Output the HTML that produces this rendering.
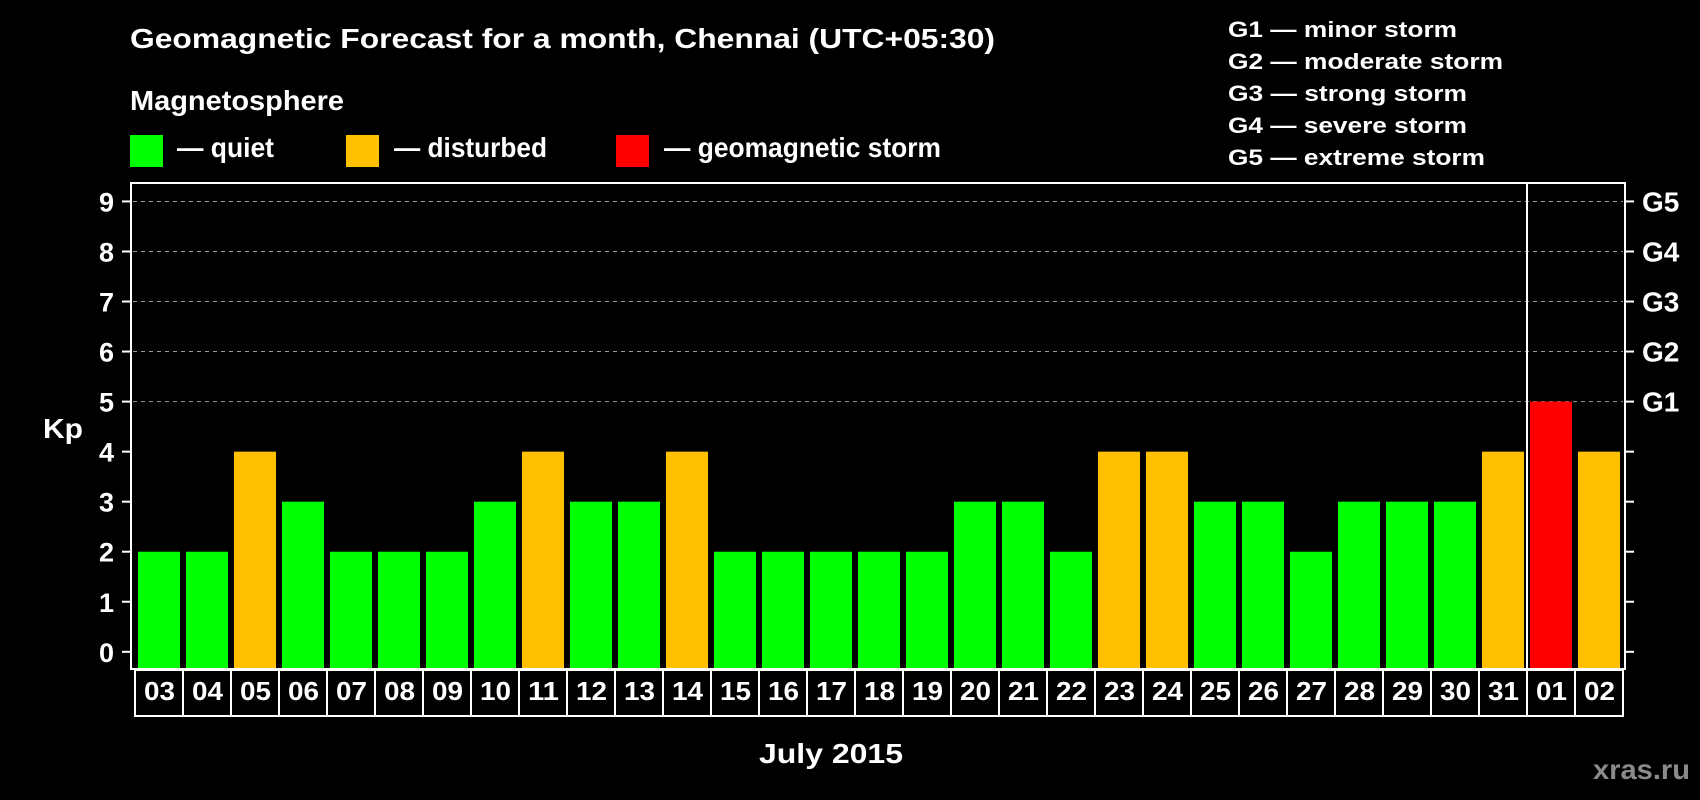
<!DOCTYPE html>
<html><head><meta charset="utf-8"><style>
html,body{margin:0;padding:0;background:#000;}
svg{display:block;font-family:"Liberation Sans",Arial,sans-serif;font-weight:bold;}
</style></head><body>
<svg id="chart" width="1700" height="800" viewBox="0 0 1700 800">
<rect x="0" y="0" width="1700" height="800" fill="#000"/>
<text x="130" y="48" fill="#fff" font-size="28" textLength="865" lengthAdjust="spacingAndGlyphs">Geomagnetic Forecast for a month, Chennai (UTC+05:30)</text>
<text x="130" y="110" fill="#fff" font-size="28" textLength="214" lengthAdjust="spacingAndGlyphs">Magnetosphere</text>
<g>
<rect x="130" y="135" width="33" height="32" fill="#00ff00"/>
<text x="177" y="157" fill="#fff" font-size="28" textLength="97" lengthAdjust="spacingAndGlyphs">— quiet</text></g>
<g>
<rect x="346" y="135" width="33" height="32" fill="#ffc000"/>
<text x="394" y="157" fill="#fff" font-size="28" textLength="153" lengthAdjust="spacingAndGlyphs">— disturbed</text></g>
<g>
<rect x="616" y="135" width="33" height="32" fill="#ff0000"/>
<text x="664" y="157" fill="#fff" font-size="28" textLength="277" lengthAdjust="spacingAndGlyphs">— geomagnetic storm</text></g>
<g id="glist"></g>
<g id="grid"></g>
<g id="bars"></g>
<rect x="131" y="183" width="1494" height="486" fill="none" stroke="#fff" stroke-width="2"/>
<line x1="1527" y1="183" x2="1527" y2="669" stroke="#fff" stroke-width="2"/>
<g id="yaxis"></g>
<g id="xaxis"></g>
<text x="43" y="438" fill="#fff" font-size="28" textLength="40" lengthAdjust="spacingAndGlyphs">Kp</text>
<text x="759" y="763" fill="#fff" font-size="28" textLength="144" lengthAdjust="spacingAndGlyphs">July 2015</text>
<text x="1593" y="779" fill="#8a8a8a" font-size="28" textLength="97" lengthAdjust="spacingAndGlyphs">xras.ru</text>
</svg>
<script>
const days = ["03","04","05","06","07","08","09","10","11","12","13","14","15","16","17","18","19","20","21","22","23","24","25","26","27","28","29","30","31","01","02"];
const kpValues = [2,2,4,3,2,2,2,3,4,3,3,4,2,2,2,2,2,3,3,2,4,4,3,3,2,3,3,3,4,5,4];
const yTicks = [0,1,2,3,4,5,6,7,8,9];
const gLabels = ["G1","G2","G3","G4","G5"];
const gLevels = [5,6,7,8,9];
const gDescriptions = ["G1 — minor storm","G2 — moderate storm","G3 — strong storm","G4 — severe storm","G5 — extreme storm"];
const gDescWidths = [229,275,239,239,257];

const NS = "http://www.w3.org/2000/svg";
function y(v){ return 651.8 - v*50.04; }
function x(i){ return 138 + i*48; }
function mk(tag, attrs, parent){ const e=document.createElementNS(NS,tag); for(const k in attrs) e.setAttribute(k,attrs[k]); parent.appendChild(e); return e; }
function color(v){ return v>=5 ? "#ff0000" : (v>=4 ? "#ffc000" : "#00ff00"); }

const grid=document.getElementById("grid"), bars=document.getElementById("bars"),
      yaxis=document.getElementById("yaxis"), xaxis=document.getElementById("xaxis"),
      glist=document.getElementById("glist");

yTicks.forEach(t=>{
  if(t>=5){
    const g=mk("line",{x1:133,x2:1623,y1:y(t),y2:y(t),stroke:"#999","stroke-width":1,"stroke-dasharray":"4,4"},grid);
    
    
  }
  const tl=mk("line",{x1:122,x2:131,y1:y(t),y2:y(t),stroke:"#fff","stroke-width":2},yaxis);
  
  
  const tr=mk("line",{x1:1625,x2:1634,y1:y(t),y2:y(t),stroke:"#fff","stroke-width":2},yaxis);
  
  
  const lb=mk("text",{x:114,y:y(t)+10,fill:"#fff","font-size":27,"text-anchor":"end"},yaxis);
  lb.textContent=t;
  
  
});
gLabels.forEach((g,i)=>{
  const t=mk("text",{x:1642,y:y(gLevels[i])+10,fill:"#fff","font-size":28},yaxis);
  t.textContent=g;
  
  
});
gDescriptions.forEach((d,i)=>{
  const t=mk("text",{x:1228,y:37+i*32,fill:"#fff","font-size":22,textLength:gDescWidths[i],lengthAdjust:"spacingAndGlyphs"},glist);
  t.textContent=d;
  
  
});
kpValues.forEach((v,i)=>{
  const r=mk("rect",{x:x(i),y:y(v),width:42,height:668-y(v),fill:color(v)},bars);
  
  
});
days.forEach((d,i)=>{
  const r=mk("rect",{x:x(i)-3,y:670,width:48,height:46,fill:"none",stroke:"#fff","stroke-width":2},xaxis);
  
  
  const t=mk("text",{x:x(i)+6,y:700,fill:"#fff","font-size":26,textLength:31,lengthAdjust:"spacingAndGlyphs"},xaxis);
  t.textContent=d;
  
  
});
</script>
</body></html>
